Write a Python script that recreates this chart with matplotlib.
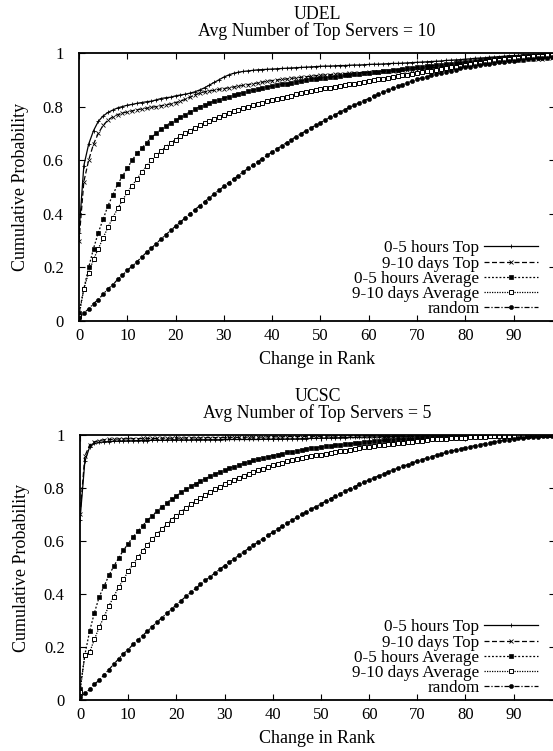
# CDF of rank change for top servers (UDEL / UCSC)
import matplotlib
matplotlib.use("Agg")
import matplotlib.pyplot as plt

plt.rcParams['font.family'] = ['Liberation Serif', 'DejaVu Serif']

# change in rank, 0..100
rank = list(range(101))

x_ticks = [0, 10, 20, 30, 40, 50, 60, 70, 80, 90]
y_ticks = [0, 0.2, 0.4, 0.6, 0.8, 1.0]
y_tick_labels = ['0', '0.2', '0.4', '0.6', '0.8', '1']

labels = ['0-5 hours Top', '9-10 days Top', '0-5 hours Average',
          '9-10 days Average', 'random']

# ---------- UDEL ----------
udel_top_05h = [
    0.33, 0.58, 0.66, 0.71, 0.745, 0.765, 0.778, 0.787, 0.795, 0.80,
    0.805, 0.808, 0.812, 0.815, 0.818, 0.82, 0.825, 0.83, 0.833, 0.835,
    0.84, 0.843, 0.846, 0.85, 0.855, 0.862, 0.87, 0.88, 0.89, 0.90,
    0.91, 0.918, 0.924, 0.928, 0.931, 0.933, 0.935, 0.937, 0.938, 0.939,
    0.94, 0.941, 0.942, 0.943, 0.944, 0.945, 0.946, 0.947, 0.948, 0.949,
    0.95, 0.951, 0.951, 0.952, 0.953, 0.953, 0.954, 0.955, 0.955, 0.956,
    0.957, 0.958, 0.958, 0.959, 0.960, 0.961, 0.961, 0.962, 0.963, 0.964,
    0.965, 0.966, 0.967, 0.968, 0.969, 0.970, 0.972, 0.973, 0.974, 0.975,
    0.977, 0.978, 0.980, 0.981, 0.982, 0.984, 0.985, 0.986, 0.988, 0.989,
    0.990, 0.991, 0.992, 0.993, 0.994, 0.995, 0.996, 0.997, 0.997, 0.998,
    0.999]
udel_top_910d = [
    0.30, 0.52, 0.60, 0.66, 0.70, 0.73, 0.75, 0.762, 0.77, 0.776,
    0.78, 0.784, 0.788, 0.791, 0.794, 0.797, 0.80, 0.803, 0.806, 0.81,
    0.815, 0.82, 0.827, 0.835, 0.843, 0.85, 0.855, 0.858, 0.861, 0.864,
    0.867, 0.87, 0.873, 0.876, 0.879, 0.882, 0.885, 0.888, 0.891, 0.894,
    0.897, 0.899, 0.901, 0.903, 0.905, 0.907, 0.909, 0.911, 0.913, 0.915,
    0.917, 0.918, 0.919, 0.921, 0.922, 0.923, 0.924, 0.925, 0.926, 0.927,
    0.928, 0.929, 0.930, 0.931, 0.932, 0.933, 0.934, 0.935, 0.936, 0.937,
    0.938, 0.940, 0.942, 0.944, 0.946, 0.948, 0.950, 0.952, 0.954, 0.956,
    0.958, 0.960, 0.962, 0.963, 0.965, 0.966, 0.968, 0.969, 0.970, 0.972,
    0.973, 0.974, 0.975, 0.976, 0.977, 0.978, 0.979, 0.980, 0.981, 0.982,
    0.983]
udel_avg_05h = [
    0.03, 0.12, 0.20, 0.27, 0.33, 0.38, 0.43, 0.47, 0.51, 0.54,
    0.57, 0.60, 0.625, 0.645, 0.665, 0.685, 0.70, 0.715, 0.728, 0.74,
    0.75, 0.76, 0.77, 0.78, 0.79, 0.80, 0.807, 0.814, 0.82, 0.826,
    0.832, 0.837, 0.842, 0.847, 0.852, 0.857, 0.861, 0.865, 0.869, 0.873,
    0.877, 0.880, 0.883, 0.886, 0.889, 0.892, 0.895, 0.898, 0.901, 0.904,
    0.906, 0.908, 0.910, 0.912, 0.914, 0.916, 0.918, 0.920, 0.922, 0.924,
    0.926, 0.928, 0.930, 0.932, 0.934, 0.936, 0.938, 0.940, 0.942, 0.944,
    0.946, 0.948, 0.950, 0.952, 0.954, 0.956, 0.958, 0.960, 0.962, 0.964,
    0.966, 0.968, 0.970, 0.972, 0.974, 0.976, 0.978, 0.980, 0.982, 0.984,
    0.985, 0.986, 0.987, 0.988, 0.989, 0.990, 0.991, 0.992, 0.993, 0.994,
    0.995]
udel_avg_910d = [
    0.02, 0.12, 0.18, 0.23, 0.27, 0.31, 0.35, 0.385, 0.42, 0.45,
    0.48, 0.505, 0.53, 0.555, 0.578, 0.60, 0.618, 0.635, 0.65, 0.664,
    0.677, 0.689, 0.70, 0.71, 0.72, 0.73, 0.738, 0.746, 0.754, 0.762,
    0.769, 0.776, 0.782, 0.788, 0.794, 0.80, 0.805, 0.81, 0.815, 0.82,
    0.825, 0.829, 0.833, 0.837, 0.841, 0.845, 0.849, 0.853, 0.857, 0.861,
    0.865, 0.868, 0.871, 0.874, 0.877, 0.880, 0.883, 0.886, 0.889, 0.892,
    0.895, 0.898, 0.901, 0.904, 0.907, 0.910, 0.913, 0.916, 0.919, 0.922,
    0.925, 0.928, 0.931, 0.934, 0.937, 0.940, 0.943, 0.946, 0.949, 0.952,
    0.955, 0.958, 0.961, 0.964, 0.967, 0.970, 0.972, 0.974, 0.976, 0.978,
    0.980, 0.982, 0.984, 0.986, 0.988, 0.989, 0.990, 0.991, 0.992, 0.993,
    0.994]
udel_random = [
    0.01, 0.03, 0.045, 0.065, 0.08, 0.10, 0.12, 0.135, 0.155, 0.17,
    0.19, 0.204, 0.221, 0.239, 0.256, 0.272, 0.289, 0.306, 0.322, 0.338,
    0.354, 0.369, 0.385, 0.40, 0.415, 0.43, 0.445, 0.459, 0.474, 0.488,
    0.502, 0.516, 0.529, 0.542, 0.556, 0.569, 0.581, 0.594, 0.606, 0.618,
    0.631, 0.642, 0.654, 0.665, 0.677, 0.688, 0.699, 0.709, 0.72, 0.73,
    0.74, 0.75, 0.76, 0.769, 0.779, 0.788, 0.797, 0.805, 0.814, 0.822,
    0.83, 0.838, 0.846, 0.854, 0.861, 0.868, 0.875, 0.882, 0.889, 0.895,
    0.902, 0.907, 0.912, 0.917, 0.921, 0.926, 0.930, 0.934, 0.938, 0.942,
    0.946, 0.949, 0.952, 0.955, 0.958, 0.960, 0.963, 0.965, 0.967, 0.969,
    0.971, 0.973, 0.975, 0.977, 0.978, 0.980, 0.981, 0.983, 0.984, 0.986,
    0.987]

# ---------- UCSC ----------
ucsc_top_05h = [
    0.68, 0.90, 0.955, 0.968, 0.972, 0.974, 0.975, 0.976, 0.977, 0.977,
    0.978, 0.978, 0.979, 0.979, 0.979, 0.98, 0.98, 0.98, 0.98, 0.981,
    0.981, 0.981, 0.981, 0.981, 0.982, 0.982, 0.982, 0.982, 0.982, 0.982,
    0.983, 0.983, 0.983, 0.983, 0.983, 0.983, 0.983, 0.983, 0.984, 0.984,
    0.984, 0.984, 0.984, 0.985, 0.985, 0.985, 0.986, 0.986, 0.987, 0.987,
    0.988, 0.988, 0.989, 0.989, 0.990, 0.990, 0.991, 0.991, 0.992, 0.992,
    0.993, 0.993, 0.993, 0.994, 0.994, 0.994, 0.995, 0.995, 0.995, 0.996,
    0.996, 0.996, 0.996, 0.997, 0.997, 0.997, 0.997, 0.998, 0.998, 0.998,
    0.998, 0.998, 0.998, 0.999, 0.999, 0.999, 0.999, 0.999, 0.999, 0.999,
    0.999, 1.0, 1.0, 1.0, 1.0, 1.0, 1.0, 1.0, 1.0, 1.0,
    1.0]
ucsc_top_910d = [
    0.70, 0.92, 0.962, 0.974, 0.979, 0.982, 0.983, 0.984, 0.985, 0.985,
    0.986, 0.986, 0.986, 0.987, 0.987, 0.987, 0.987, 0.988, 0.988, 0.988,
    0.988, 0.988, 0.989, 0.989, 0.989, 0.989, 0.990, 0.990, 0.990, 0.990,
    0.990, 0.991, 0.991, 0.991, 0.991, 0.992, 0.992, 0.992, 0.992, 0.993,
    0.993, 0.993, 0.993, 0.994, 0.994, 0.994, 0.994, 0.995, 0.995, 0.995,
    0.995, 0.996, 0.996, 0.996, 0.996, 0.996, 0.997, 0.997, 0.997, 0.997,
    0.997, 0.998, 0.998, 0.998, 0.998, 0.998, 0.998, 0.999, 0.999, 0.999,
    0.999, 0.999, 1.0, 1.0, 1.0, 1.0, 1.0, 1.0, 1.0, 1.0,
    1.0, 1.0, 1.0, 1.0, 1.0, 1.0, 1.0, 1.0, 1.0, 1.0,
    1.0, 1.0, 1.0, 1.0, 1.0, 1.0, 1.0, 1.0, 1.0, 1.0,
    1.0]
ucsc_avg_05h = [
    0.04, 0.17, 0.26, 0.33, 0.39, 0.43, 0.47, 0.505, 0.535, 0.565,
    0.59, 0.615, 0.637, 0.658, 0.678, 0.696, 0.713, 0.729, 0.744, 0.758,
    0.771, 0.783, 0.795, 0.806, 0.816, 0.826, 0.835, 0.844, 0.852, 0.86,
    0.867, 0.874, 0.881, 0.887, 0.893, 0.899, 0.904, 0.909, 0.914, 0.918,
    0.922, 0.926, 0.930, 0.934, 0.937, 0.940, 0.943, 0.946, 0.949, 0.952,
    0.955, 0.957, 0.959, 0.961, 0.963, 0.965, 0.967, 0.969, 0.971, 0.973,
    0.975, 0.977, 0.978, 0.980, 0.981, 0.982, 0.983, 0.984, 0.985, 0.986,
    0.987, 0.988, 0.989, 0.990, 0.991, 0.991, 0.992, 0.993, 0.993, 0.994,
    0.994, 0.995, 0.995, 0.996, 0.996, 0.996, 0.997, 0.997, 0.997, 0.998,
    0.998, 0.998, 0.998, 0.999, 0.999, 0.999, 0.999, 0.999, 1.0, 1.0,
    1.0]
ucsc_avg_910d = [
    0.03, 0.17, 0.18, 0.23, 0.275, 0.315, 0.355, 0.39, 0.425, 0.455,
    0.485, 0.512, 0.538, 0.562, 0.585, 0.606, 0.626, 0.645, 0.663, 0.68,
    0.696, 0.711, 0.725, 0.738, 0.751, 0.763, 0.774, 0.785, 0.795, 0.805,
    0.814, 0.823, 0.831, 0.839, 0.847, 0.854, 0.861, 0.867, 0.873, 0.879,
    0.885, 0.890, 0.895, 0.900, 0.904, 0.908, 0.912, 0.916, 0.920, 0.923,
    0.926, 0.929, 0.932, 0.935, 0.938, 0.941, 0.944, 0.947, 0.950, 0.953,
    0.956, 0.959, 0.961, 0.963, 0.965, 0.967, 0.969, 0.971, 0.973, 0.975,
    0.977, 0.979, 0.981, 0.983, 0.984, 0.985, 0.986, 0.987, 0.988, 0.989,
    0.990, 0.991, 0.992, 0.993, 0.994, 0.995, 0.995, 0.996, 0.996, 0.997,
    0.997, 0.998, 0.998, 0.998, 0.999, 0.999, 0.999, 0.999, 1.0, 1.0,
    1.0]
ucsc_random = [
    0.01, 0.025, 0.04, 0.06, 0.075, 0.095, 0.115, 0.135, 0.155, 0.175,
    0.19, 0.21, 0.226, 0.243, 0.26, 0.277, 0.294, 0.311, 0.327, 0.343,
    0.359, 0.375, 0.391, 0.406, 0.421, 0.436, 0.451, 0.465, 0.479, 0.493,
    0.507, 0.52, 0.533, 0.546, 0.559, 0.572, 0.584, 0.597, 0.609, 0.621,
    0.633, 0.644, 0.656, 0.667, 0.678, 0.689, 0.70, 0.71, 0.72, 0.73,
    0.74, 0.75, 0.76, 0.769, 0.779, 0.788, 0.797, 0.805, 0.814, 0.822,
    0.83, 0.838, 0.846, 0.853, 0.861, 0.868, 0.875, 0.882, 0.888, 0.895,
    0.901, 0.907, 0.913, 0.918, 0.924, 0.929, 0.934, 0.939, 0.943, 0.948,
    0.952, 0.956, 0.96, 0.964, 0.967, 0.971, 0.974, 0.977, 0.98, 0.982,
    0.985, 0.987, 0.989, 0.991, 0.992, 0.994, 0.995, 0.996, 0.997, 0.998,
    0.999]

# line style per series (gnuplot-like black lines with points)
styles = [
    dict(ls='-', marker='+', ms=3.5, mew=0.6, mfc='k'),
    dict(ls=(0, (4, 2)), marker='x', ms=2.5, mew=0.6, mfc='k'),
    dict(ls=(0, (1.5, 1.5)), marker='s', ms=2.4, mew=0.5, mfc='k'),
    dict(ls=(0, (1, 1)), marker='s', ms=3.0, mew=0.7, mfc='white'),
    dict(ls=(0, (4, 1.5, 1, 1.5)), marker='o', ms=3.0, mew=0.4, mfc='k'),
]


def draw_panel(ax, series, title):
    for y, lab, st in zip(series, labels, styles):
        ax.plot(rank, y, color='k', lw=0.9, mec='k', label=lab, **st)
    ax.set_xlim(0, 98.6)
    ax.set_ylim(0, 1)
    ax.set_xticks(x_ticks)
    ax.set_yticks(y_ticks)
    ax.set_yticklabels(y_tick_labels)
    ax.tick_params(direction='in', length=4, width=0.8, top=True, right=True,
                   labelsize=12)
    ax.tick_params(axis='x', pad=5)
    ax.tick_params(axis='y', pad=11)
    for s in ax.spines.values():
        s.set_linewidth(1.3)
    ax.set_title(title, fontsize=12.8, linespacing=0.95, pad=12)
    ax.set_xlabel('Change in Rank', fontsize=13, labelpad=5)
    ax.set_ylabel('Cumulative Probability', fontsize=13, labelpad=10)
    ax.legend(loc='lower right', bbox_to_anchor=(0.99, -0.03), frameon=False,
              markerfirst=False, fontsize=12.3, handlelength=3.2,
              handletextpad=0.25, labelspacing=-0.05, borderpad=0.2)


fig = plt.figure(figsize=(5.53, 7.51), dpi=100)
ax1 = fig.add_axes([0.1429, 0.5726, 0.8608, 0.3569])
ax2 = fig.add_axes([0.1447, 0.0679, 0.8590, 0.3529])

draw_panel(ax1, [udel_top_05h, udel_top_910d, udel_avg_05h, udel_avg_910d, udel_random],
           'UDEL\nAvg Number of Top Servers = 10')
draw_panel(ax2, [ucsc_top_05h, ucsc_top_910d, ucsc_avg_05h, ucsc_avg_910d, ucsc_random],
           'UCSC\nAvg Number of Top Servers = 5')

fig.savefig('out.png', dpi=100)
